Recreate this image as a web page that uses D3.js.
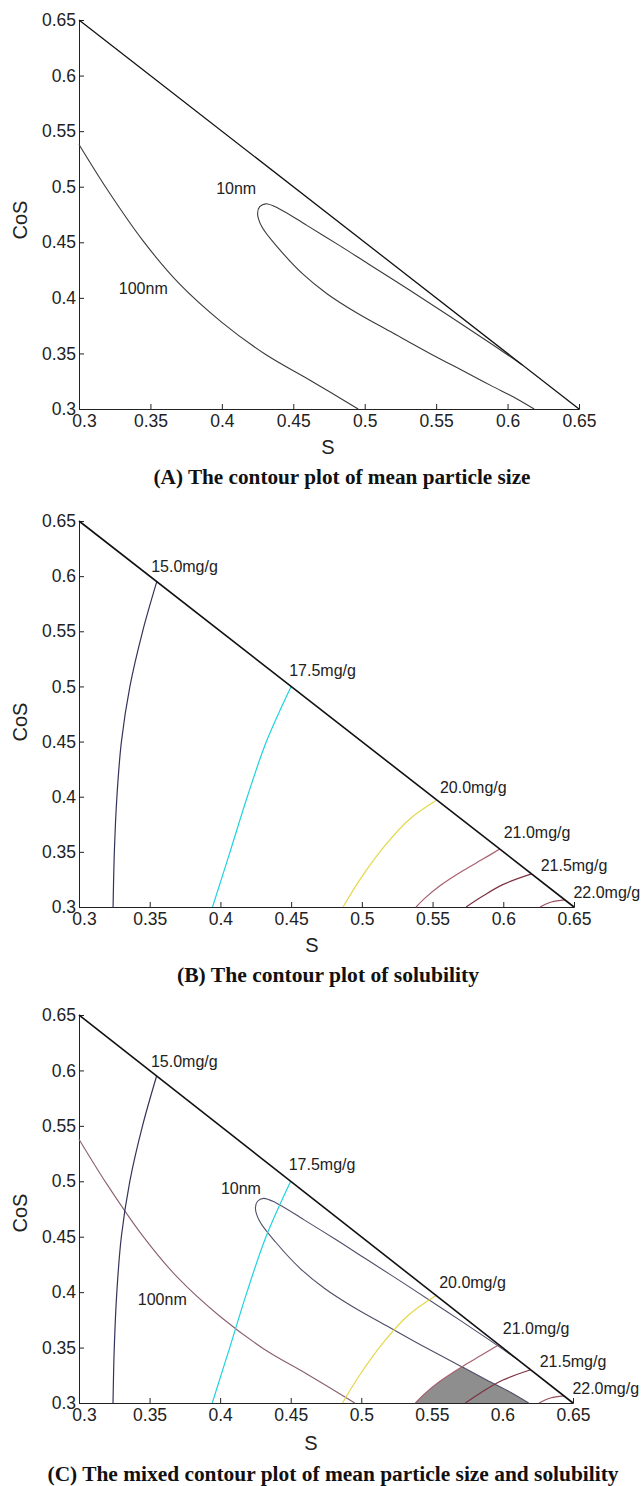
<!DOCTYPE html>
<html><head><meta charset="utf-8">
<script src="https://cdn.jsdelivr.net/npm/d3@7"></script>
<style>
html,body{margin:0;padding:0;background:#fff;}
svg{display:block;}
</style></head>
<body>
<script>
// ---------- data (S, CoS) ----------
const ticks = [0.3, 0.35, 0.4, 0.45, 0.5, 0.55, 0.6, 0.65];
const tickLabels = ["0.3","0.35","0.4","0.45","0.5","0.55","0.6","0.65"];
const boundary = [[0.3, 0.65], [0.65, 0.3]];

// mean particle size contours
const nm100 = [[0.3,0.538],[0.32,0.497],[0.345,0.451],[0.37,0.413],[0.40,0.378],[0.4307,0.349],[0.4623,0.3255],[0.4954,0.3]];
const nm10Lower = [[0.6186,0.300],[0.606,0.3095],[0.5888,0.3208],[0.5717,0.3324],[0.5456,0.3500],[0.5198,0.3683],[0.494,0.3868],[0.4738,0.4035],[0.4566,0.4215],[0.4394,0.4450],[0.4279,0.4642],[0.4250,0.4760]];
const nm10Upper = [[0.4265,0.4820],[0.4307,0.4846],[0.4394,0.4807],[0.4595,0.4652],[0.4825,0.4470],[0.5026,0.4305],[0.5313,0.4070],[0.560,0.3830],[0.5888,0.3585],[0.6103,0.3396]];

// solubility contours
const sol150 = [[0.3241,0.3],[0.3250,0.35],[0.3268,0.40],[0.3300,0.45],[0.3360,0.50],[0.3450,0.55],[0.3550,0.595]];
const sol175 = [[0.3944,0.3],[0.4068,0.35],[0.4190,0.40],[0.4325,0.45],[0.4500,0.50]];
const sol200 = [[0.4867,0.3],[0.499,0.3255],[0.5163,0.3556],[0.5337,0.3796],[0.5530,0.3970]];
const sol210 = [[0.5383,0.3],[0.545,0.3085],[0.555,0.319],[0.5717,0.333],[0.585,0.343],[0.5975,0.3525]];
const sol215 = [[0.5737,0.3],[0.585,0.3095],[0.600,0.3205],[0.620,0.330]];
const sol220 = [[0.626,0.3],[0.634,0.3045],[0.6436,0.3064]];

const solNames = ["15.0mg/g","17.5mg/g","20.0mg/g","21.0mg/g","21.5mg/g","22.0mg/g"];
const solLabelPos = [[0.3746,0.6085],[0.4722,0.5148],[0.5788,0.4088],[0.6239,0.3676],[0.6500,0.3376],[0.6732,0.3127]];
const sizeNames = ["10nm","100nm"];
const sizeLabelPosA = [[0.410,0.498],[0.345,0.408]];
const sizeLabelPosC = [[0.4147,0.4938],[0.359,0.393]];

const captions = ["(A) The contour plot of mean particle size",
                  "(B) The contour plot of solubility",
                  "(C) The mixed contour plot of mean particle size and solubility"];

// ---------- layout ----------
const W = 641, H = 1486;
const panels = [
  {left:79, right:579, top:20,   bottom:409,  sx:328, sy:447,  cosY:220,  capX:342, capY:477,  capW:377},
  {left:79, right:574, top:521,  bottom:907,  sx:312, sy:945,  cosY:722,  capX:328, capY:975,  capW:302},
  {left:79, right:573, top:1015, bottom:1403, sx:311, sy:1443, cosY:1213, capX:333, capY:1474, capW:571}
];

const svg = d3.select("body").append("svg").attr("width", W).attr("height", H)
  .style("font-family", "'Liberation Sans', Arial, Helvetica, sans-serif");
svg.append("rect").attr("width", W).attr("height", H).attr("fill", "#fff");

function drawPanel(i, p) {
  const g = svg.append("g");
  const x = d3.scaleLinear().domain([0.3, 0.65]).range([p.left, p.right]);
  const y = d3.scaleLinear().domain([0.3, 0.65]).range([p.bottom, p.top]);
  const line = d3.line().x(d => x(d[0])).y(d => y(d[1])).curve(d3.curveCatmullRom.alpha(0.5));
  const straight = d3.line().x(d => x(d[0])).y(d => y(d[1]));

  // axes
  const xa = g.append("g").attr("transform", `translate(0,${p.bottom})`)
    .call(d3.axisBottom(x).tickValues(ticks).tickSize(-5).tickFormat((d, k) => tickLabels[k]));
  xa.select(".domain").attr("stroke", "#222");
  xa.selectAll(".tick line").attr("stroke", "#222");
  xa.selectAll(".tick text").attr("font-size", 17.5).attr("fill", "#222").attr("dy", "0.55em").attr("y", 8)
    .attr("dx", (d, k) => k === 0 ? 5 : 0);
  const ya = g.append("g").attr("transform", `translate(${p.left},0)`)
    .call(d3.axisLeft(y).tickValues(ticks).tickSize(-5).tickFormat((d, k) => tickLabels[k]));
  ya.select(".domain").attr("stroke", "#222");
  ya.selectAll(".tick line").attr("stroke", "#222");
  ya.selectAll(".tick text").attr("font-size", 17.5).attr("fill", "#222").attr("x", -3);
  xa.attr("font-family", null); ya.attr("font-family", null);

  g.append("text").attr("x", p.sx).attr("y", p.sy).attr("text-anchor", "middle")
    .attr("dominant-baseline", "central").attr("font-size", 20).attr("fill", "#222").text("S");
  g.append("text").attr("transform", `translate(20,${p.cosY}) rotate(-90)`).attr("text-anchor", "middle")
    .attr("dominant-baseline", "central").attr("font-size", 20).attr("fill", "#222").text("CoS");

  const showSize = i !== 1, showSol = i !== 0;
  const nm10 = nm10Lower.concat(nm10Upper);

  // shaded feasible region (panel C): right of 21.0 mg/g contour and below 10 nm contour
  if (i === 2) {
    const clipId = "clip10";
    const last = nm10Lower[nm10Lower.length - 1];
    g.append("clipPath").attr("id", clipId).append("path")
      .attr("d", line(nm10Lower) + "L" + x(0.3) + "," + y(last[1]) + "L" + x(0.3) + "," + y(0.3) + "Z");
    const end = sol210[sol210.length - 1];
    g.append("path").attr("clip-path", `url(#${clipId})`)
      .attr("d", line(sol210) + "L" + x(0.65) + "," + y(end[1]) + "L" + x(0.65) + "," + y(0.3) + "Z")
      .attr("fill", "#8e8e8e").attr("stroke", "none");
  }

  if (showSize) {
    const col100 = i === 0 ? "#3a3a3a" : "#8a5f6e";
    const col10 = i === 0 ? "#3a3a3a" : "#4e4e68";
    g.append("path").attr("d", line(nm100)).attr("fill", "none").attr("stroke", col100).attr("stroke-width", 1.1);
    g.append("path").attr("d", line(nm10)).attr("fill", "none").attr("stroke", col10).attr("stroke-width", 1.1);
  }
  if (showSol) {
    const sols = [sol150, sol175, sol200, sol210, sol215, sol220];
    const cols = ["#34345a", "#1fd3de", "#e3d84a", "#a8606e", "#7a3242", "#9a5060"];
    sols.forEach((s, k) => {
      g.append("path").attr("d", line(s)).attr("fill", "none").attr("stroke", cols[k]).attr("stroke-width", 1.2);
    });
  }
  // boundary S + CoS = 0.95
  g.append("path").attr("d", straight(boundary)).attr("fill", "none").attr("stroke", "#111").attr("stroke-width", i === 0 ? 1.3 : 1.6);

  if (showSize) {
    const pos = i === 0 ? sizeLabelPosA : sizeLabelPosC;
    sizeNames.forEach((n, k) => {
      g.append("text").attr("x", x(pos[k][0])).attr("y", y(pos[k][1])).attr("text-anchor", "middle")
        .attr("dominant-baseline", "central").attr("font-size", 16).attr("fill", "#222").text(n);
    });
  }
  if (showSol) {
    solNames.forEach((n, k) => {
      g.append("text").attr("x", x(solLabelPos[k][0])).attr("y", y(solLabelPos[k][1])).attr("text-anchor", "middle")
        .attr("dominant-baseline", "central").attr("font-size", 16).attr("fill", "#222").text(n);
    });
  }

  svg.append("text").attr("x", p.capX).attr("y", p.capY).attr("text-anchor", "middle")
    .attr("dominant-baseline", "central").attr("font-family", "'Liberation Serif', 'Times New Roman', serif")
    .attr("font-weight", "bold").attr("font-size", 20).attr("fill", "#111")
    .attr("textLength", p.capW).attr("lengthAdjust", "spacingAndGlyphs").text(captions[i]);
}

panels.forEach((p, i) => drawPanel(i, p));
</script>
</body></html>
